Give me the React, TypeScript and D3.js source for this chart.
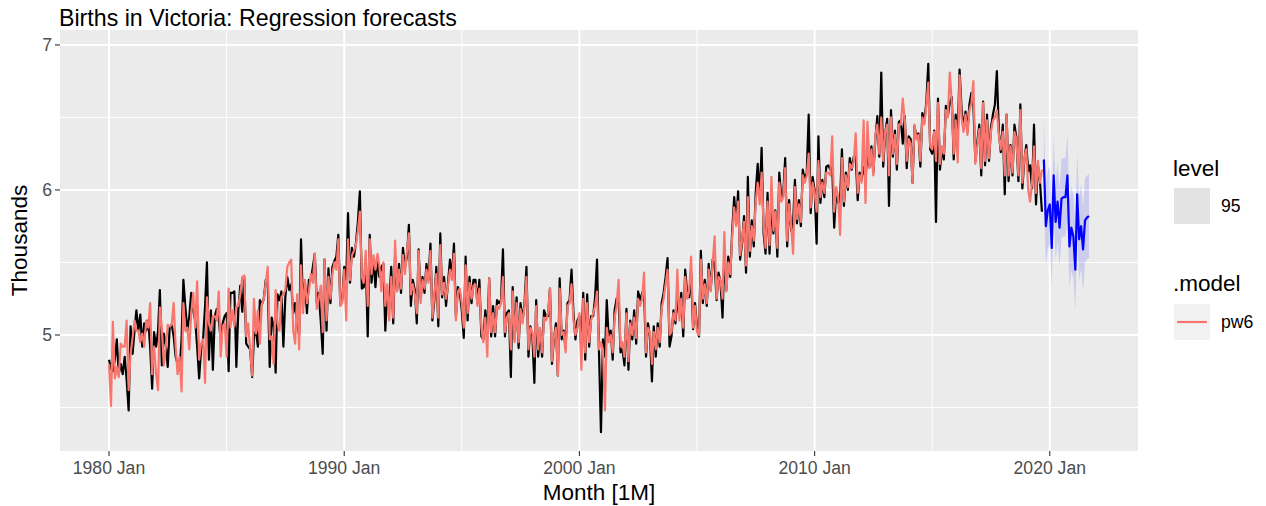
import React from "react";
import * as d3 from "d3";

// ---------------- DATA ----------------
const START_YEAR = 1980; // first observation: 1980 Jan (monthly)

// Observed births (thousands), 1980 Jan .. 2019 Sep
const actual: number[] = [
  4.83,4.77,4.75,4.83,4.97,4.73,4.80,4.73,4.85,4.69,4.48,5.06,
  4.87,5.03,5.17,5.03,5.14,4.92,5.08,5.03,5.10,4.92,4.63,5.02,
  4.92,5.03,5.31,4.79,5.01,4.93,4.78,5.06,5.07,4.99,4.85,4.80,
  4.76,4.97,5.38,5.19,5.03,5.13,5.29,5.17,5.10,4.92,4.70,
  4.90,4.97,5.20,5.50,4.83,5.17,4.76,5.13,5.18,5.10,4.97,5.08,5.13,5.15,4.75,5.29,5.29,5.30,4.78,5.17,5.34,5.16,5.40,4.94,4.92,4.90,4.71,4.99,5.03,4.92,5.24,5.21,5.25,5.38,5.37,4.78,5.12,5.06,4.74,5.28,5.24,5.30,4.92,5.26,5.40,5.31,
  5.35,5.15,5.22,5.08,5.00,5.66,5.20,5.36,5.15,5.38,5.38,5.47,5.56,5.22,5.29,5.10,4.87,5.52,5.03,5.46,5.22,5.47,5.51,5.54,5.69,5.21,5.24,5.47,5.38,5.84,5.36,5.60,5.54,5.63,5.78,5.99,5.32,5.33,5.52,4.99,5.69,5.36,5.52,5.33,5.54,5.40,5.47,5.49,5.03,
  5.30,5.22,5.47,5.08,5.55,5.31,5.49,5.29,5.60,5.47,5.54,5.76,5.20,5.38,5.31,5.08,5.59,5.26,5.40,5.29,5.49,5.38,5.63,5.10,5.24,5.47,5.06,5.70,5.26,5.40,5.20,5.36,5.52,5.40,5.63,5.13,5.33,5.29,5.17,4.98,5.54,5.10,5.40,5.22,5.38,5.38,5.22,5.38,
  4.99,4.97,5.17,5.01,5.39,4.99,5.20,4.99,5.24,5.22,5.24,5.59,4.99,5.15,5.17,4.71,5.33,4.97,5.26,4.91,5.22,5.10,5.22,5.47,4.85,5.06,4.99,4.67,5.24,4.85,5.03,4.85,5.17,5.13,5.13,5.32,4.80,4.97,5.08,4.72,5.39,4.97,5.03,4.91,5.22,5.24,5.45,5.15,
  4.97,5.10,5.13,4.90,5.29,4.83,5.28,4.92,5.13,5.13,5.26,5.52,4.87,4.33,4.97,4.85,5.24,4.97,5.03,4.83,5.17,5.25,5.26,4.88,4.90,4.79,5.18,4.76,5.10,4.97,5.17,4.94,5.30,5.24,5.29,5.31,4.85,5.08,4.99,4.68,5.06,4.85,5.08,4.92,5.22,5.29,5.40,5.53,4.92,
  4.99,5.17,5.08,5.26,5.13,5.29,4.99,5.45,5.29,5.26,5.43,5.04,5.22,5.06,4.99,5.58,5.22,5.38,5.20,5.49,5.31,5.52,5.49,5.24,5.43,5.36,5.12,5.54,5.31,5.54,5.40,5.72,5.95,5.77,5.99,5.52,5.63,5.82,5.43,6.09,5.54,5.79,5.61,5.98,6.18,5.95,6.29,5.70,
  5.56,5.98,5.56,5.93,5.70,5.86,5.54,6.12,5.95,5.98,6.22,5.61,5.93,5.72,5.77,6.07,5.77,5.93,5.75,6.14,6.07,6.12,6.52,5.84,6.09,6.00,5.63,6.37,5.91,6.07,5.95,6.16,6.17,6.14,6.16,5.74,6.00,5.91,5.93,6.28,5.89,6.12,6.00,6.22,6.14,6.23,6.23,5.93,6.12,
  6.07,6.16,6.09,6.25,6.16,6.30,6.12,6.35,6.51,6.23,6.81,6.16,6.39,6.49,5.89,6.55,6.23,6.41,6.14,6.47,6.48,6.32,6.51,6.15,6.37,6.35,6.05,6.44,6.37,6.39,6.16,6.53,6.48,6.60,6.87,6.28,6.25,6.41,5.78,6.63,6.14,6.28,6.21,6.58,6.51,6.60,6.64,6.21,
  6.52,6.36,6.83,6.56,6.42,6.54,6.40,6.59,6.67,6.59,6.20,6.33,6.45,6.10,6.61,6.17,6.52,6.20,6.43,6.52,6.59,6.82,6.40,6.26,6.45,5.97,6.52,6.06,6.31,6.10,6.45,6.36,6.06,6.59,6.01,6.20,6.31,6.13,6.17,6.01,6.45,5.90,6.17,6.06,5.85,
];

// Fitted values of model pw6 (same months)
const fitted: number[] = [
  4.80,4.51,5.09,4.70,4.78,4.71,4.94,4.92,4.92,5.10,4.62,4.87,
  4.98,5.10,5.03,5.03,4.95,5.01,4.92,5.10,5.05,5.22,4.73,4.92,
  4.73,4.62,5.19,5.05,4.79,4.92,5.07,5.06,5.07,5.22,4.92,4.73,
  4.85,4.61,5.22,5.03,5.05,4.90,5.15,5.29,5.05,5.37,4.83,
  4.94,4.97,4.67,5.26,5.08,5.03,5.13,5.13,5.10,5.30,4.85,5.06,5.08,4.85,5.32,5.05,5.17,5.06,5.20,5.20,5.28,5.40,5.41,4.99,5.08,4.90,4.72,5.25,5.01,5.17,4.94,5.21,5.25,5.36,5.47,4.97,4.99,4.80,5.31,5.08,5.03,5.26,5.28,5.31,5.47,5.50,
  5.52,5.03,4.94,5.28,4.90,5.48,5.15,5.38,5.22,5.30,5.42,5.36,5.56,5.18,5.25,5.34,5.02,5.52,5.10,5.40,5.25,5.42,5.50,5.45,5.66,5.20,5.22,5.45,5.10,5.66,5.38,5.55,5.58,5.62,5.72,5.85,5.40,5.36,5.58,5.20,5.66,5.42,5.55,5.45,5.56,5.48,5.30,5.50,5.20,
  5.35,5.10,5.40,5.12,5.65,5.30,5.45,5.32,5.55,5.42,5.58,5.70,5.28,5.35,5.28,5.15,5.58,5.22,5.38,5.32,5.45,5.36,5.58,5.12,5.28,5.42,5.12,5.62,5.28,5.36,5.25,5.34,5.45,5.38,5.56,5.10,5.30,5.32,5.22,5.05,5.48,5.15,5.36,5.25,5.34,5.35,5.20,5.32,
  5.05,4.95,5.12,4.85,5.39,5.02,5.15,5.02,5.20,5.18,5.22,5.40,5.02,5.12,5.15,4.90,5.30,4.95,5.22,4.95,5.18,5.08,5.20,5.40,4.90,5.05,5.02,4.85,5.20,4.90,5.05,4.88,5.12,5.10,5.15,5.32,4.82,4.98,5.05,4.72,5.32,5.00,5.02,4.88,5.20,5.22,5.35,5.10,
  5.00,5.05,5.15,4.76,5.25,4.88,5.22,4.95,5.10,5.15,5.20,5.30,4.90,4.95,4.90,4.48,5.05,4.95,5.00,4.88,5.12,5.20,5.38,4.92,4.95,4.85,5.15,4.82,5.08,5.00,5.12,4.98,5.25,5.20,5.25,5.43,4.88,5.05,5.02,4.80,5.02,4.90,5.05,4.95,5.18,5.25,5.35,5.45,5.00,
  5.02,5.15,5.10,5.45,5.10,5.25,5.05,5.40,5.25,5.30,5.54,5.05,5.20,5.02,5.00,5.52,5.25,5.35,5.22,5.45,5.30,5.50,5.68,5.25,5.40,5.38,5.25,5.71,5.30,5.50,5.42,5.68,5.88,5.75,5.92,5.55,5.65,5.78,5.48,5.95,5.58,5.75,5.65,5.92,6.05,5.90,6.12,5.75,
  5.60,5.92,5.62,6.09,5.72,5.85,5.60,6.05,5.92,5.95,6.15,5.65,5.90,5.75,5.56,6.02,5.80,5.90,5.78,6.10,6.05,6.10,6.25,5.88,6.05,5.98,5.85,6.20,5.95,6.05,5.98,6.12,6.12,6.10,6.37,5.85,6.02,5.95,5.69,6.22,5.92,6.10,6.02,6.18,6.15,6.20,6.39,5.98,6.10,
  6.05,6.48,5.91,6.47,6.15,6.28,6.10,6.38,6.45,6.25,6.50,6.20,6.40,6.45,6.10,6.50,6.25,6.38,6.18,6.45,6.45,6.63,6.48,6.20,6.35,6.32,6.05,6.45,6.35,6.38,6.20,6.50,6.45,6.58,6.74,6.30,6.28,6.40,6.20,6.60,6.18,6.30,6.25,6.55,6.50,6.81,6.60,6.25,
  6.48,6.19,6.79,6.50,6.40,6.52,6.38,6.55,6.60,6.75,6.18,6.30,6.42,6.15,6.60,6.20,6.48,6.22,6.40,6.48,6.50,6.55,6.38,6.28,6.40,6.10,6.52,6.10,6.30,6.12,6.40,6.35,6.10,6.55,6.05,6.22,6.28,6.00,5.92,6.05,6.30,5.98,6.20,6.05,6.14,
];

// Forecasts, 2019 Oct .. 2021 Sep, with 95% interval
const forecastMean: number[] = [
  6.21,5.75,5.86,5.90,5.60,6.10,5.78,5.92,5.74,5.94,5.95,5.95,
  6.10,5.61,5.74,5.68,5.45,5.97,5.66,5.75,5.59,5.79,5.81,5.82,
];
const forecastLo: number[] = [
  5.94,5.48,5.59,5.63,5.33,5.83,5.51,5.65,5.47,5.67,5.68,5.68,
  5.81,5.32,5.45,5.39,5.16,5.68,5.37,5.46,5.30,5.50,5.52,5.53,
];
const forecastHi: number[] = [
  6.48,6.02,6.13,6.17,5.87,6.37,6.05,6.19,6.01,6.21,6.22,6.22,
  6.39,5.90,6.03,5.97,5.74,6.26,5.95,6.04,5.88,6.08,6.10,6.11,
];

const xTickYears = [1980, 1990, 2000, 2010, 2020];
const xTickLabels = ["1980 Jan", "1990 Jan", "2000 Jan", "2010 Jan", "2020 Jan"];
const xMinorYears = [1985, 1995, 2005, 2015];
const yTicks = [5, 6, 7];
const yMinor = [4.5, 5.5, 6.5];
const yDomain: [number, number] = [4.2, 7.103];

const TITLE = "Births in Victoria: Regression forecasts";
const X_TITLE = "Month [1M]";
const Y_TITLE = "Thousands";
const LEVEL_TITLE = "level";
const LEVEL_LABEL = "95";
const MODEL_TITLE = ".model";
const MODEL_LABEL = "pw6";

// ---------------- CHART ----------------
const monthDate = (i: number) => new Date(Date.UTC(START_YEAR, i, 1));

export default function App() {
  const W = 1266, H = 506;
  const pl = 60, pr = 1138, pt = 30, pb = 451;
  const font = "'Liberation Sans', Arial, Helvetica, sans-serif";
  const tickSize = 17.6;
  const titleSize = 22.5;

  const nObs = actual.length;
  const first = monthDate(0);
  const last = monthDate(nObs + forecastMean.length - 1);
  const span = +last - +first;
  const x = d3
    .scaleUtc()
    .domain([new Date(+first - 0.05 * span), new Date(+last + 0.05 * span)])
    .range([pl, pr]);
  const y = d3.scaleLinear().domain(yDomain).range([pb, pt]);

  const obsLine = d3
    .line<number>()
    .x((_, i) => x(monthDate(i)))
    .y((d) => y(d));
  const fcLine = d3
    .line<number>()
    .x((_, i) => x(monthDate(nObs + i)))
    .y((d) => y(d));
  const fcArea = d3
    .area<number>()
    .x((_, i) => x(monthDate(nObs + i)))
    .y0((_, i) => y(forecastLo[i]))
    .y1((_, i) => y(forecastHi[i]));

  const tickColor = "#4D4D4D";

  return (
    <svg
      width={W}
      height={H}
      viewBox={`0 0 ${W} ${H}`}
      style={{ position: "absolute", left: 0, top: 0, background: "#FFFFFF" }}
      fontFamily={font}
    >
      <rect x={0} y={0} width={W} height={H} fill="#FFFFFF" />
      {/* panel */}
      <rect x={pl} y={pt} width={pr - pl} height={pb - pt} fill="#EBEBEB" />
      <defs>
        <clipPath id="panelClip">
          <rect x={pl} y={pt} width={pr - pl} height={pb - pt} />
        </clipPath>
      </defs>
      {/* minor grid */}
      {yMinor.map((v) => (
        <line key={"ym" + v} x1={pl} x2={pr} y1={y(v)} y2={y(v)} stroke="#FFFFFF" strokeWidth={1} />
      ))}
      {xMinorYears.map((yr) => {
        const px = x(new Date(Date.UTC(yr, 0, 1)));
        return <line key={"xm" + yr} x1={px} x2={px} y1={pt} y2={pb} stroke="#FFFFFF" strokeWidth={1} />;
      })}
      {/* major grid */}
      {yTicks.map((v) => (
        <line key={"yg" + v} x1={pl} x2={pr} y1={y(v)} y2={y(v)} stroke="#FFFFFF" strokeWidth={2} />
      ))}
      {xTickYears.map((yr) => {
        const px = x(new Date(Date.UTC(yr, 0, 1)));
        return <line key={"xg" + yr} x1={px} x2={px} y1={pt} y2={pb} stroke="#FFFFFF" strokeWidth={2} />;
      })}

      <g clipPath="url(#panelClip)">
        <path d={fcArea(forecastMean) || ""} fill="#0000FF" fillOpacity={0.13} stroke="none" />
        <path d={obsLine(actual) || ""} fill="none" stroke="#000000" strokeWidth={2.2} strokeLinejoin="round" />
        <path d={obsLine(fitted) || ""} fill="none" stroke="#F8766D" strokeWidth={2.2} strokeLinejoin="round" />
        <path d={fcLine(forecastMean) || ""} fill="none" stroke="#0000FF" strokeWidth={2.2} strokeLinejoin="round" />
      </g>

      {/* y axis */}
      {yTicks.map((v) => (
        <g key={"yt" + v}>
          <line x1={pl - 5} x2={pl} y1={y(v)} y2={y(v)} stroke="#333333" strokeWidth={1.1} />
          <text x={pl - 8} y={y(v)} dy="0.36em" textAnchor="end" fontSize={tickSize} fill={tickColor}>
            {v}
          </text>
        </g>
      ))}
      {/* x axis */}
      {xTickYears.map((yr, i) => {
        const px = x(new Date(Date.UTC(yr, 0, 1)));
        return (
          <g key={"xt" + yr}>
            <line x1={px} x2={px} y1={pb} y2={pb + 5} stroke="#333333" strokeWidth={1.1} />
            <text x={px} y={pb + 23} textAnchor="middle" fontSize={tickSize} fill={tickColor}>
              {xTickLabels[i]}
            </text>
          </g>
        );
      })}

      {/* titles */}
      <text x={pl - 1} y={26} fontSize={23.2} fill="#000000">
        {TITLE}
      </text>
      <text x={(pl + pr) / 2} y={500} textAnchor="middle" fontSize={titleSize} fill="#000000">
        {X_TITLE}
      </text>
      <text
        transform={`translate(${27},${(pt + pb) / 2}) rotate(-90)`}
        textAnchor="middle"
        fontSize={titleSize}
        fill="#000000"
      >
        {Y_TITLE}
      </text>

      {/* legend: level */}
      <text x={1173} y={176} fontSize={titleSize} fill="#000000">
        {LEVEL_TITLE}
      </text>
      <rect x={1174} y={188} width={36} height={36} fill="#E3E3E3" />
      <text x={1221} y={206} dy="0.36em" fontSize={tickSize} fill="#000000">
        {LEVEL_LABEL}
      </text>

      {/* legend: model */}
      <text x={1173} y={291} fontSize={titleSize} fill="#000000">
        {MODEL_TITLE}
      </text>
      <rect x={1174} y={304} width={36} height={36} fill="#F2F2F2" />
      <line x1={1177} x2={1207} y1={322} y2={322} stroke="#F8766D" strokeWidth={2.2} />
      <text x={1221} y={322} dy="0.36em" fontSize={tickSize} fill="#000000">
        {MODEL_LABEL}
      </text>
    </svg>
  );
}
